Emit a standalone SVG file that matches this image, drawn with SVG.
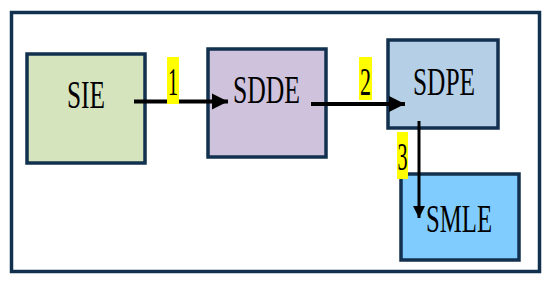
<svg xmlns="http://www.w3.org/2000/svg" width="550" height="285" viewBox="0 0 550 285">
<style>
.box{stroke:#12314f;stroke-width:3.5}
.lbl{font-family:"Liberation Serif","Times New Roman",serif;font-size:39px;fill:#000;text-anchor:middle}
.num{font-family:"Liberation Serif","Times New Roman",serif;font-size:41px;fill:#000;text-anchor:middle}
.hl{fill:#ffff00}
.conn{stroke:#000;fill:none}
</style>
<defs>
<marker id="ah" viewBox="0 0 10 10" refX="10" refY="5" markerWidth="4" markerHeight="5" markerUnits="strokeWidth" orient="auto">
<path d="M0,0 L10,5 L0,10 z" fill="#000"/>
</marker>
</defs>
<rect x="0" y="0" width="550" height="285" fill="#fff"/>
<rect x="11.5" y="12.5" width="528" height="259" fill="#fff" stroke="#12314f" stroke-width="3.5"/>
<g id="SIE">
<rect class="box" x="27" y="54" width="118" height="109" fill="#d5e4bd"/>
<text class="lbl" x="86" y="108" textLength="38" lengthAdjust="spacingAndGlyphs">SIE</text>
</g>
<g id="SDDE">
<rect class="box" x="208" y="49" width="118" height="108" fill="#cfc2dd"/>
<text class="lbl" x="266.5" y="103" textLength="67" lengthAdjust="spacingAndGlyphs">SDDE</text>
</g>
<g id="SDPE">
<rect class="box" x="388" y="40" width="110" height="88" fill="#b5cfe7"/>
<text class="lbl" x="444" y="95" textLength="62" lengthAdjust="spacingAndGlyphs">SDPE</text>
</g>
<g id="SMLE">
<rect class="box" x="401" y="174" width="118" height="86" fill="#80ccfe"/>
<text class="lbl" x="459" y="232" textLength="66" lengthAdjust="spacingAndGlyphs">SMLE</text>
</g>
<g id="connectors">
<line class="conn" x1="134" y1="101.5" x2="228" y2="101.5" stroke-width="4" marker-end="url(#ah)"/>
<line class="conn" x1="311" y1="104" x2="405" y2="104" stroke-width="4" marker-end="url(#ah)"/>
<line class="conn" x1="419" y1="121" x2="419" y2="218" stroke-width="3" marker-end="url(#ah)"/>
<rect class="hl" x="167" y="57" width="12" height="47"/>
<text class="num" x="173" y="95" textLength="10" lengthAdjust="spacingAndGlyphs">1</text>
<rect class="hl" x="359" y="57" width="13" height="43"/>
<text class="num" x="365.5" y="95" textLength="11" lengthAdjust="spacingAndGlyphs">2</text>
<rect class="hl" x="397" y="132" width="11" height="47"/>
<text class="num" x="402.5" y="170" textLength="10" lengthAdjust="spacingAndGlyphs">3</text>
</g>
</svg>
